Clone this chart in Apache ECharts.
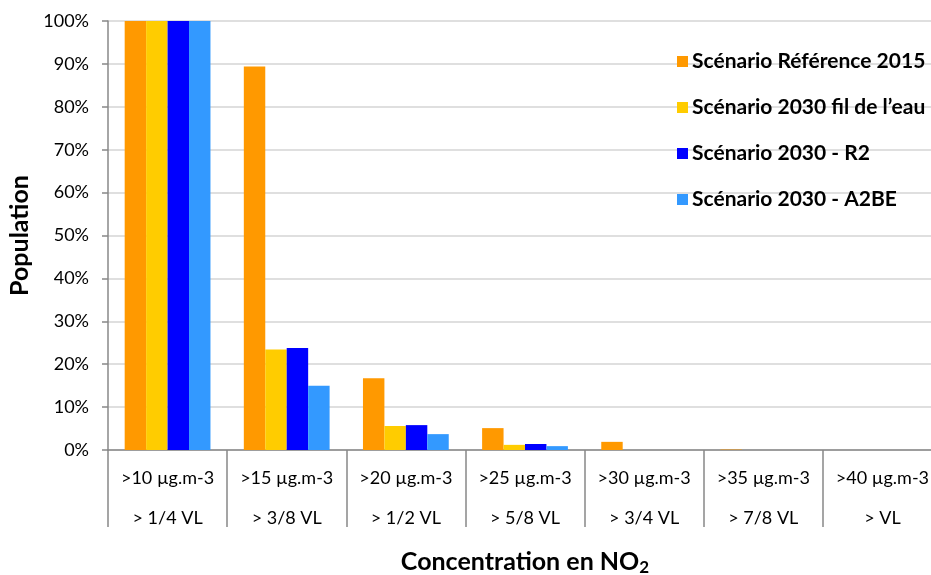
<!DOCTYPE html>
<html>
<head>
<meta charset="utf-8">
<script src="https://cdn.jsdelivr.net/npm/echarts@6/dist/echarts.min.js"></script>
<style>
html, body { margin: 0; padding: 0; overflow: hidden; background: #fff; }
#chart { width: 945px; height: 575px; }
</style>
</head>
<body>
<div id="chart"></div>
<script>
// classes de concentration (deux lignes de libellés)
var concLabels = ['>10 µg.m-3', '>15 µg.m-3', '>20 µg.m-3', '>25 µg.m-3', '>30 µg.m-3', '>35 µg.m-3', '>40 µg.m-3'];
var vlLabels = ['> 1/4 VL', '> 3/8 VL', '> 1/2 VL', '> 5/8 VL', '> 3/4 VL', '> 7/8 VL', '> VL'];
var yTicks = [0, 10, 20, 30, 40, 50, 60, 70, 80, 90, 100];

var seriesNames = ['Scénario Référence 2015', 'Scénario 2030 fil de l\u2019eau', 'Scénario 2030 - R2', 'Scénario 2030 - A2BE'];
var ref2015 = [100, 89.4, 16.7, 5.1, 1.9, 0.1, 0];
var filEau2030 = [100, 23.4, 5.6, 1.2, 0, 0, 0];
var r2_2030 = [100, 23.8, 5.8, 1.4, 0, 0, 0];
var a2be2030 = [100, 15.0, 3.7, 0.9, 0, 0, 0];
var colors = ['#FF9900', '#FFCC00', '#0000FF', '#3399FF'];

var categories = concLabels.map(function (c, i) { return c + '\n' + vlLabels[i]; });
var allData = [ref2015, filEau2030, r2_2030, a2be2030];

var font = 'Lato, "Open Sans", sans-serif';
var myChart = echarts.init(document.getElementById('chart'));

var option = {
    animation: false,
    textStyle: { fontFamily: font },
    grid: { left: 108, right: 3, top: 21, bottom: 125, outerBoundsMode: 'none' },
    legend: {
        orient: 'vertical',
        left: 672,
        top: 46,
        itemWidth: 11,
        itemHeight: 11,
        itemGap: 25,
        icon: 'rect',
        data: seriesNames,
        textStyle: { fontFamily: font, fontSize: 21, fontWeight: 'bold', color: '#000', padding: [0, 0, 0, -1] }
    },
    xAxis: {
        type: 'category',
        data: categories,
        name: '{a|Concentration en NO}{s|2}',
        nameLocation: 'middle',
        nameGap: 97,
        nameTextStyle: {
            rich: {
                a: { fontFamily: font, fontSize: 25, fontWeight: 'bold', color: '#000' },
                s: { fontFamily: font, fontSize: 17, fontWeight: 'bold', color: '#000', padding: [12, 0, 0, 0] }
            }
        },
        axisLine: { lineStyle: { color: '#888', width: 1.5 } },
        axisTick: { show: true, length: 77, interval: 0, lineStyle: { color: '#888', width: 1.5 } },
        axisLabel: {
            interval: 0,
            color: '#000',
            fontSize: 18,
            fontFamily: font,
            lineHeight: 40,
            margin: 8
        }
    },
    yAxis: {
        type: 'value',
        min: 0,
        max: 100,
        interval: 10,
        name: 'Population',
        nameLocation: 'middle',
        nameGap: 75,
        nameRotate: 90,
        nameTextStyle: { fontFamily: font, fontSize: 25, fontWeight: 'bold', color: '#000' },
        axisLine: { show: true, lineStyle: { color: '#888', width: 1.5 } },
        axisTick: { show: true, length: 6, lineStyle: { color: '#888', width: 1.5 } },
        axisLabel: {
            color: '#000',
            fontSize: 18,
            fontFamily: font,
            margin: 19,
            formatter: function (v) { return yTicks.indexOf(v) >= 0 ? v + '%' : ''; }
        },
        splitLine: { show: true, lineStyle: { color: '#d4d4d4', width: 1.5 } }
    },
    series: allData.map(function (d, i) {
        return {
            name: seriesNames[i],
            type: 'bar',
            data: d,
            barGap: '0%',
            barCategoryGap: '28%',
            itemStyle: { color: colors[i] }
        };
    })
};

myChart.setOption(option);
</script>
</body>
</html>
